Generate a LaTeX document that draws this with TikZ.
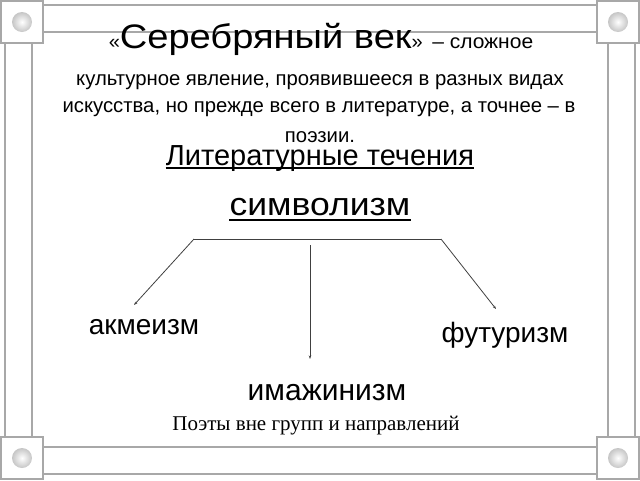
\documentclass[tikz,border=0pt]{standalone}
\usepackage{graphicx}
\usepackage{fontspec}
\setmainfont{Liberation Sans}
\newfontfamily\serifT{Liberation Serif}
\usetikzlibrary{arrows.meta}
\definecolor{fr}{HTML}{A8A8A8}
\begin{document}
\begin{tikzpicture}[x=1pt,y=-1pt,
  frameline/.style={draw=fr,line width=2pt},
  cornerbox/.style={draw=fr,line width=2pt,fill=white},
  ball/.style={inner color=white,outer color=gray!45},
  arr/.style={draw=black!75,line width=0.8pt,-{Stealth[length=3.5pt,width=2.5pt]}},
  conn/.style={draw=black!75,line width=0.8pt},
  uline/.style={draw=black,line width=1.8pt},
  txt/.style={inner sep=0pt,anchor=base},
  lbl/.style={inner sep=0pt,anchor=base}]
\useasboundingbox (0,0) rectangle (640,480);
% frame
\draw[frameline] (44,5) -- (596,5) (44,32) -- (596,32);
\draw[frameline] (44,447) -- (596,447) (44,474) -- (596,474);
\draw[frameline] (5,44) -- (5,436) (32,44) -- (32,436);
\draw[frameline] (608,44) -- (608,436) (635,44) -- (635,436);
\foreach \cx/\cy in {22/22,618/22,22/458,618/458}{
  \draw[cornerbox] (\cx-21,\cy-21) rectangle (\cx+21,\cy+21);
  \shade[ball] (\cx,\cy) circle (10);
}
% title text
\node[txt] (t1) at (321,48) {\fontsize{20}{24}\selectfont«\scalebox{1.12}[1]{\fontsize{34}{38}\selectfont Серебряный век}\fontsize{20}{24}\selectfont»\hspace{4pt} \scalebox{1.05}[1]{– сложное}};
\node[txt] (t2) at (320,85) {\fontsize{20.3}{24}\selectfont культурное явление, проявившееся в разных видах};
\node[txt] (t3) at (319,112) {\fontsize{20.3}{24}\selectfont искусства, но прежде всего в литературе, а точнее – в};
\node[txt] (t4) at (320,142) {\fontsize{20.3}{24}\selectfont поэзии.};
\node[txt] (lt) at (320,165) {\fontsize{29}{34}\selectfont Литературные течения};
\draw[uline] ([yshift=-3pt]lt.base west) -- ([yshift=-3pt]lt.base east);
\node[txt] (sym) at (320,215) {\scalebox{1.11}[1]{\fontsize{32}{36}\selectfont символизм}};
\draw[uline] ([yshift=-5pt]sym.base west) -- ([yshift=-5pt]sym.base east);
% branches
\coordinate (hl) at (194,239);
\coordinate (hr) at (441,239);
\coordinate (mtop) at (310,245);
\draw[conn] (hl) -- (hr);
\node[lbl] (akm) at (144,334) {\fontsize{28}{32}\selectfont акмеизм};
\node[lbl] (fut) at (505,342) {\fontsize{28}{32}\selectfont футуризм};
\node[lbl] (ima) at (327,400) {\fontsize{30}{34}\selectfont имажинизм};
\coordinate (ea) at (134,305);
\coordinate (ef) at (496,309);
\coordinate (ei) at (310,359);
\draw[arr] (hl) -- (ea);
\draw[arr] (hr) -- (ef);
\draw[arr] (mtop) -- (ei);
\node[lbl] (poets) at (316,430) {\serifT\fontsize{21}{24}\selectfont Поэты вне групп и направлений};
\end{tikzpicture}
\end{document}
